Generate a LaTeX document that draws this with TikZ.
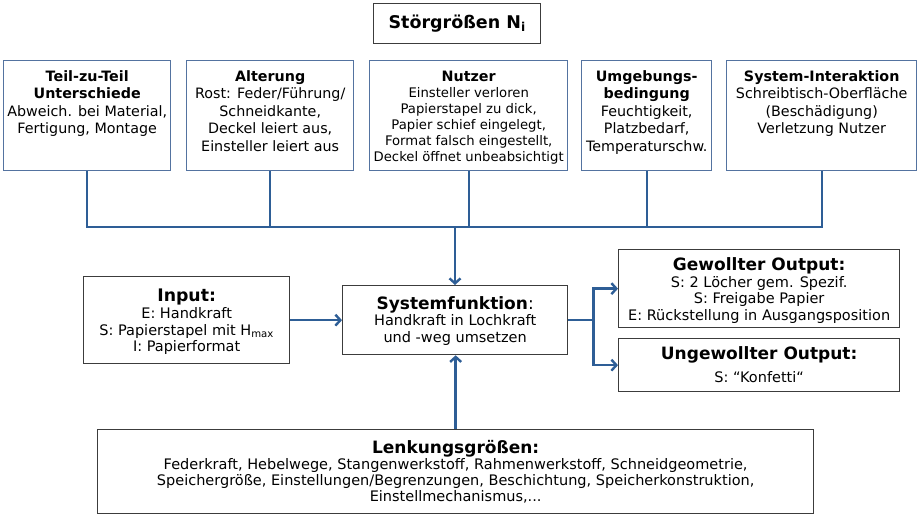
\documentclass[tikz,border=0pt]{standalone}
\usepackage{fontspec}
\setmainfont{DejaVu Sans}
\usetikzlibrary{arrows.meta}
\definecolor{conn}{RGB}{46,94,150}
\definecolor{topborder}{RGB}{84,115,160}
\definecolor{boxborder}{RGB}{60,60,60}
\begin{document}
\begin{tikzpicture}[x=1pt,y=-1pt,
  topbox/.style={draw=topborder, line width=1.4pt, inner sep=0pt, anchor=north west},
  lowbox/.style={draw=boxborder, line width=1.3pt, inner sep=0pt, anchor=north west},
  toptext/.style={anchor=north, align=center, inner sep=0pt, font=\fontsize{14.3}{17.4}\selectfont},
  lowtext/.style={anchor=north, align=center, inner sep=0pt, font=\fontsize{14.5}{16.6}\selectfont},
  conn/.style={draw=conn, line width=2.4pt},
  arr/.style={conn, -{Straight Barb[length=5pt,width=11pt]}},
]
\useasboundingbox (0,0) rectangle (920,517);

% Stoergroessen
\node[draw=boxborder, line width=1.3pt, anchor=north west, inner sep=0pt,
      minimum width=167pt, minimum height=40pt] (st) at (373,3) {};
\node[inner sep=0pt, font=\fontsize{17.5}{20}\selectfont\bfseries] (sttext) at (st.center) {Störgrößen N\textsubscript{i}};

% top boxes
\node[topbox, minimum width=167pt, minimum height=110pt] (b1) at (3,60) {};
\node[topbox, minimum width=167pt, minimum height=110pt] (b2) at (186,60) {};
\node[topbox, minimum width=198pt, minimum height=110pt] (b3) at (369,60) {};
\node[topbox, minimum width=130pt, minimum height=110pt] (b4) at (581,60) {};
\node[topbox, minimum width=190pt, minimum height=110pt] (b5) at (726,60) {};

\node[toptext] (t1) at ([yshift=-10.5pt]b1.north) {\textbf{Teil-zu-Teil}\\\textbf{Unterschiede}\\Abweich. bei Material,\\Fertigung, Montage};
\node[toptext] (t2) at ([yshift=-10.5pt]b2.north) {\textbf{Alterung}\\Rost: Feder/Führung/\\Schneidkante,\\Deckel leiert aus,\\Einsteller leiert aus};
\node[toptext, font=\fontsize{13.2}{16.1}\selectfont] (t3) at ([yshift=-10.5pt]b3.north) {{\fontsize{14.3}{17}\selectfont\bfseries Nutzer}\\Einsteller verloren\\Papierstapel zu dick,\\Papier schief eingelegt,\\Format falsch eingestellt,\\Deckel öffnet unbeabsichtigt};
\node[toptext] (t4) at ([yshift=-10.5pt]b4.north) {\textbf{Umgebungs-}\\\textbf{bedingung}\\Feuchtigkeit,\\Platzbedarf,\\Temperaturschw.};
\node[toptext] (t5) at ([yshift=-10.5pt]b5.north) {\textbf{System-Interaktion}\\Schreibtisch-Oberfläche\\(Beschädigung)\\Verletzung Nutzer};

% middle boxes
\node[lowbox, minimum width=206pt, minimum height=87pt] (in) at (83,276) {};
\node[lowtext] (intext) at ([yshift=-13pt]in.north) {{\fontsize{17.3}{18}\selectfont\bfseries Input:}\\E: Handkraft\\S: Papierstapel mit H\textsubscript{max}\\I: Papierformat};

\node[lowbox, minimum width=225pt, minimum height=69pt] (sys) at (342,285) {};
\node[lowtext] (systext) at ([yshift=-11pt]sys.north) {{\fontsize{17}{18}\selectfont\textbf{Systemfunktion}:}\\Handkraft in Lochkraft\\und -weg umsetzen};

\node[lowbox, minimum width=281pt, minimum height=78pt] (gew) at (618,249) {};
\node[lowtext] (gewtext) at ([yshift=-8.5pt]gew.north) {{\fontsize{17}{18}\selectfont\bfseries Gewollter Output:}\\S: 2 Löcher gem. Spezif.\\S: Freigabe Papier\\E: Rückstellung in Ausgangsposition};

\node[lowbox, minimum width=281pt, minimum height=53pt] (ung) at (618,338) {};
\node[lowtext, font=\fontsize{14.5}{23}\selectfont] (ungtext) at ([yshift=-8pt]ung.north) {{\fontsize{17}{18}\selectfont\bfseries Ungewollter Output:}\\S: “Konfetti“};

\node[lowbox, minimum width=716pt, minimum height=84pt] (lenk) at (97,429) {};
\node[lowtext, font=\fontsize{14.5}{16.2}\selectfont] (lenktext) at ([yshift=-11pt]lenk.north) {{\fontsize{17}{18}\selectfont\bfseries Lenkungsgrößen:}\\Federkraft, Hebelwege, Stangenwerkstoff, Rahmenwerkstoff, Schneidgeometrie,\\Speichergröße, Einstellungen/Begrenzungen, Beschichtung, Speicherkonstruktion,\\Einstellmechanismus,...};

% connectors
\coordinate (bus) at (455,227);
\draw[conn] (b1.south) -- (b1.south |- bus) -- (b5.south |- bus) -- (b5.south);
\draw[conn] (b2.south) -- (b2.south |- bus);
\draw[conn] (b3.south) -- (b3.south |- bus);
\draw[conn] (b4.south) -- (b4.south |- bus);
\draw[arr] (bus) -- (sys.north -| bus);
\draw[arr] (in.east) -- (sys.west);
\coordinate (br) at ([xshift=25pt]sys.east);
\draw[conn] (sys.east) -- (br);
\draw[arr] (br) |- (gew.west);
\draw[arr] (br) |- (ung.west);
\draw[arr] (lenk.north) -- (sys.south -| lenk.north);
\end{tikzpicture}
\end{document}
